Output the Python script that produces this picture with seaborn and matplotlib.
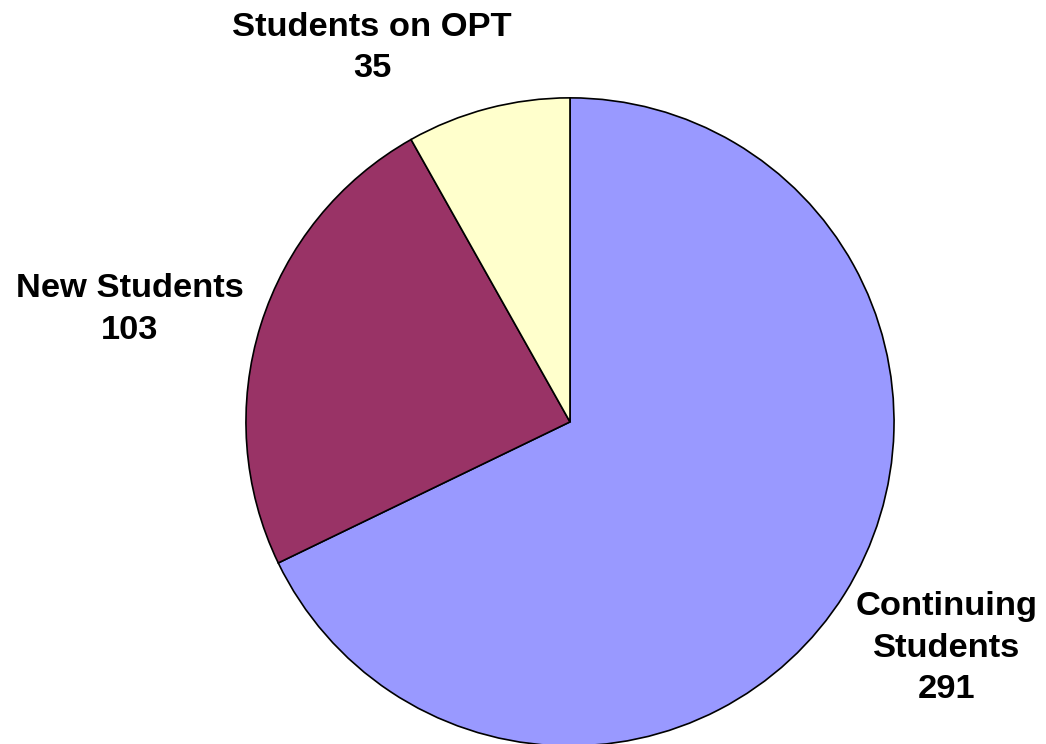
import numpy as np
import matplotlib.pyplot as plt
import seaborn as sns

sns.set_theme(style='white')
plt.rcParams['font.family'] = ['Liberation Sans', 'DejaVu Sans']

# data
categories = ['Continuing\nStudents', 'New Students', 'Students on OPT']
counts = [291, 103, 35]
colors = ['#9999FF', '#993366', '#FFFFCC']

# label anchor points (data units, pie radius = 1)
label_pos = [(1.162, -0.698), (-1.358, 0.346), (-0.611, 1.154)]

fig = plt.figure(figsize=(10.46, 7.44), dpi=100)
ax = fig.add_axes([0, 0, 1, 1])

wedges, _ = ax.pie(counts, colors=colors, startangle=90, counterclock=False,
                   radius=1, wedgeprops=dict(edgecolor='black', linewidth=1.2))

for (x, y), cat, n in zip(label_pos, categories, counts):
    ax.text(x, y, f'{cat}\n{n}', ha='center', va='center', fontsize=24.8,
            fontweight='bold', color='black', linespacing=1.45)

ax.set_xlim(-1.759, 1.469)
ax.set_ylim(-0.994, 1.302)
ax.set_aspect('equal')
ax.axis('off')

fig.savefig('out.png', dpi=100, facecolor='white')
